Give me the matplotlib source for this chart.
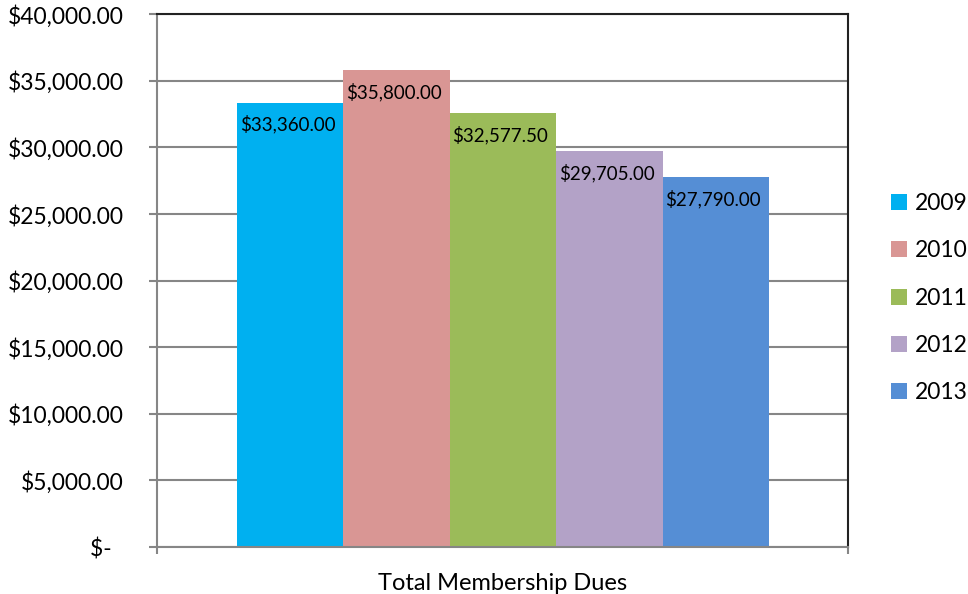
import matplotlib.pyplot as plt
import numpy as np

# dues per year
years = ['2009', '2010', '2011', '2012', '2013']
dues = [33360.00, 35800.00, 32577.50, 29705.00, 27790.00]
colors = ['#00B0F0', '#D99694', '#9BBB59', '#B3A2C7', '#558ED5']
yticks = np.arange(0, 40001, 5000)

plt.rcParams['font.family'] = ['Lato', 'DejaVu Sans']

fig = plt.figure(figsize=(9.68, 5.94), dpi=100)
ax = fig.add_axes([0.162, 0.079, 0.714, 0.897])

width = 0.154
start = 0.1158
for i, (yr, val, c) in enumerate(zip(years, dues, colors)):
    x0 = start + i * width
    ax.bar(x0, val, width=width, align='edge', color=c, label=yr, zorder=2)
    ax.annotate('${:,.2f}'.format(val), xy=(x0, val), xytext=(2, -9),
                textcoords='offset points', ha='left', va='top',
                fontsize=13.5, zorder=3)

ax.set_xlim(0, 1)
ax.set_ylim(0, 40000)
ax.set_yticks(yticks)
ax.set_yticklabels(['$-'.ljust(4) if v == 0 else '${:,.2f}'.format(v) for v in yticks],
                   fontsize=16.5)
ax.yaxis.grid(True, color='#868686', linewidth=1.5, zorder=0)
ax.tick_params(axis='y', length=6, width=1.5, color='#868686', pad=18)
ax.set_xticks([0, 1])
ax.set_xticklabels([])
ax.tick_params(axis='x', length=5, width=1.5, color='#868686')
ax.set_xlabel('Total Membership Dues', fontsize=17, labelpad=10)

for s in ['left', 'bottom']:
    ax.spines[s].set_color('#868686')
    ax.spines[s].set_linewidth(1.5)
for s in ['top', 'right']:
    ax.spines[s].set_color('#222222')
    ax.spines[s].set_linewidth(1.5)

ax.legend(loc='center left', bbox_to_anchor=(1.032, 0.467), frameon=False,
          fontsize=16.5, handlelength=0.7, handleheight=0.7, handletextpad=0.35,
          labelspacing=1.15)

fig.savefig('out.png', dpi=100)
